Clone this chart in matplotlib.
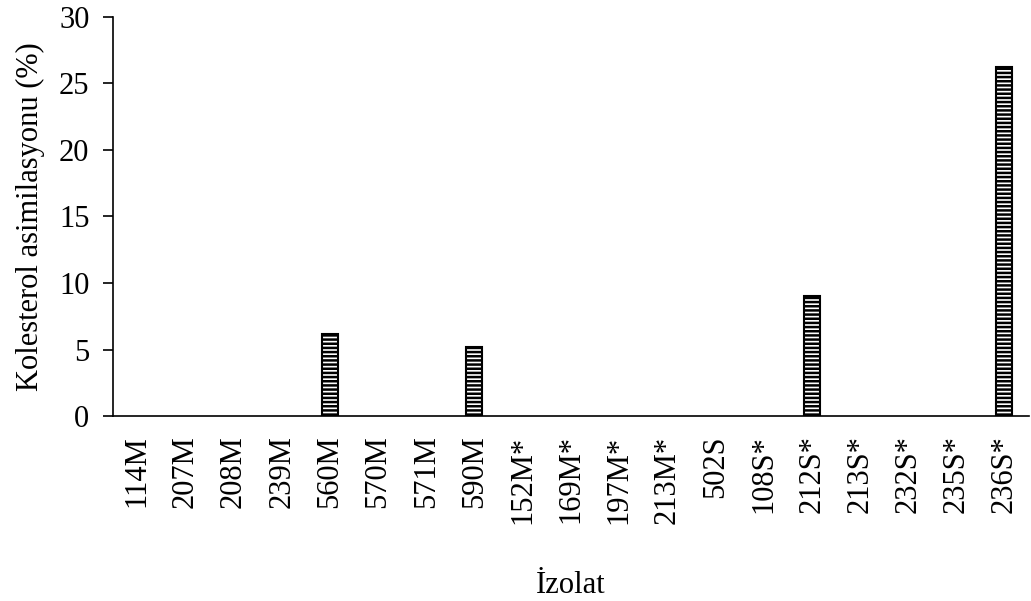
import matplotlib.pyplot as plt

plt.rcParams['font.family'] = ['Liberation Serif', 'DejaVu Serif']
plt.rcParams['hatch.linewidth'] = 1.8

# isolates and cholesterol assimilation (%)
isolates = ['114M', '207M', '208M', '239M', '560M', '570M', '571M', '590M',
            '152M*', '169M*', '197M*', '213M*', '502S', '108S*', '212S*',
            '213S*', '232S*', '235S*', '236S*']
assimilation = [0, 0, 0, 0, 6.2, 0, 0, 5.2, 0, 0, 0, 0, 0, 0, 9.0, 0, 0, 0, 26.2]

fs = 22

fig = plt.figure(figsize=(10.31, 6.01), dpi=100)
ax = fig.add_axes([0.1096, 0.3078, 0.888, 0.664])

x = range(len(isolates))
bars = ax.bar(x, assimilation, width=0.33, color='white', edgecolor='black',
              linewidth=1.5, hatch='----')
# zero-height bars are not drawn in the original
for b, v in zip(bars, assimilation):
    if v == 0:
        b.set_visible(False)

ax.set_xlim(-0.5, len(isolates) - 0.5)
ax.set_ylim(0, 30)
ax.set_yticks(range(0, 31, 5))
ax.set_xticks(list(x))
ax.set_xticklabels(isolates, rotation=90, fontsize=fs)
ax.tick_params(axis='y', labelsize=fs, direction='out', length=7, width=1.2, pad=10)
ax.tick_params(axis='x', length=0, pad=14)

for s in ['top', 'right']:
    ax.spines[s].set_visible(False)
ax.spines['left'].set_linewidth(1.2)
ax.spines['bottom'].set_linewidth(1.2)

ax.set_ylabel('Kolesterol asimilasyonu (%)', fontsize=fs, labelpad=10)
ax.set_xlabel('İzolat', fontsize=fs, labelpad=34)

fig.savefig('out.png', dpi=100)
